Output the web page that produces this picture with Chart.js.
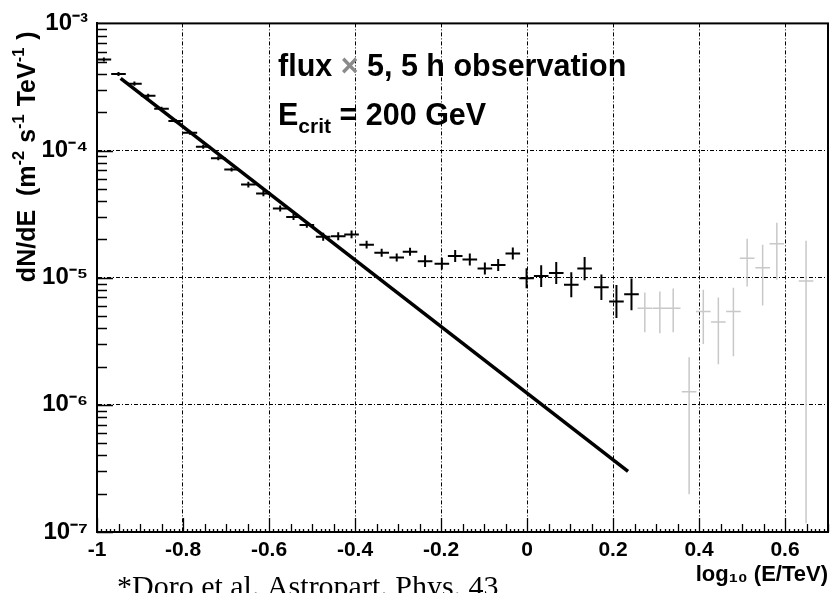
<!DOCTYPE html>
<html>
<head>
<meta charset="utf-8">
<script src="https://cdn.jsdelivr.net/npm/chart.js@4/dist/chart.umd.min.js"></script>
<style>
  html, body { margin: 0; padding: 0; background: #fff; }
  #wrap { width: 831px; height: 593px; position: relative; overflow: hidden; }
</style>
</head>
<body>
<div id="wrap"><canvas id="c" width="831" height="593"></canvas></div>
<script>
// ---------------- data ----------------
// log10(E/TeV) bin centres of the black (significant) points
const blackX = [-0.984,-0.950,-0.913,-0.881,-0.850,-0.817,-0.784,-0.753,-0.718,-0.687,
                -0.648,-0.613,-0.574,-0.543,-0.512,-0.474,-0.439,-0.408,-0.373,-0.338,
                -0.303,-0.272,-0.237,-0.198,-0.167,-0.133,-0.098,-0.067,-0.033,-0.001,
                 0.033, 0.068, 0.103, 0.134, 0.173, 0.208, 0.243];
// dN/dE (m^-2 s^-1 TeV^-1)
const blackY = [5.2e-4,4.0e-4,3.36e-4,2.70e-4,2.13e-4,1.71e-4,1.38e-4,1.07e-4,8.7e-5,7.1e-5,
                5.4e-5,4.6e-5,3.5e-5,3.0e-5,2.6e-5,2.1e-5,2.12e-5,2.19e-5,1.82e-5,1.57e-5,
                1.44e-5,1.6e-5,1.35e-5,1.29e-5,1.48e-5,1.39e-5,1.18e-5,1.26e-5,1.55e-5,9.9e-6,
                1.03e-5,1.09e-5,8.8e-6,1.18e-5,8.4e-6,6.5e-6,7.4e-6];
// vertical error half-size, in decades
const blackErrDex = [0.016,0.016,0.016,0.016,0.016,0.016,0.016,0.016,0.016,0.016,
                     0.023,0.023,0.023,0.023,0.023,0.031,0.031,0.031,0.031,0.031,
                     0.031,0.031,0.047,0.047,0.047,0.047,0.047,0.047,0.047,0.078,
                     0.086,0.086,0.098,0.091,0.100,0.130,0.125];
// grey (non-significant) points
const greyX  = [0.274,0.309,0.340,0.377,0.410,0.445,0.480,0.512,0.548,0.581,0.649];
const greyY  = [5.75e-6,5.75e-6,5.75e-6,1.27e-6,5.42e-6,4.48e-6,5.42e-6,1.42e-5,1.20e-5,1.85e-5,9.42e-6];
const greyLo = [3.72e-6,3.65e-6,3.72e-6,1.98e-7,3.01e-6,2.09e-6,2.41e-6,8.51e-6,6.04e-6,9.64e-6,1.17e-7];
const greyHi = [7.64e-6,7.80e-6,8.24e-6,2.37e-6,8.05e-6,6.98e-6,8.35e-6,2.02e-5,1.82e-5,2.70e-5,1.95e-5];
// bin half width in log10(E/TeV)
const binHalf = 0.017;
// power-law fit line
const fitX = [-0.945, 0.235];
const fitY = [3.7e-4, 3.0e-7];
// axis ticks
const xTickValues = [-1,-0.8,-0.6,-0.4,-0.2,0,0.2,0.4,0.6];
const xTickLabels = ['-1','-0.8','-0.6','-0.4','-0.2','0','0.2','0.4','0.6'];
const yTickValues = [1e-7,1e-6,1e-5,1e-4,1e-3];
const yTickLabels = ['10\u207B\u2077','10\u207B\u2076','10\u207B\u2075','10\u207B\u2074','10\u207B\u00B3'];
// y-axis title pieces: [text, isSuperscript]
const yTitleParts = [['dN/dE  (m', false], ['-2', true], [' s', false], ['-1', true], [' TeV', false], ['-1', true], [' )', false]];

// ---------------- build error-bar polylines ----------------
function crosses(xs, ys, los, his) {
  const pts = [];
  for (let i = 0; i < xs.length; i++) {
    pts.push({x: xs[i] - binHalf, y: ys[i]}, {x: xs[i] + binHalf, y: ys[i]}, {x: xs[i], y: null});
    pts.push({x: xs[i], y: los[i]}, {x: xs[i], y: his[i]}, {x: xs[i], y: null});
  }
  return pts;
}
const blackLo = blackY.map((v, i) => v / Math.pow(10, blackErrDex[i]));
const blackHi = blackY.map((v, i) => v * Math.pow(10, blackErrDex[i]));

const SANS = '"Liberation Sans", Arial, Helvetica, sans-serif';
const SERIF = '"Liberation Serif", "Times New Roman", serif';

const rootDecor = {
  id: 'rootDecor',
  afterDatasetsDraw(chart) {
    const {ctx, chartArea: a, scales: {x, y}} = chart;
    ctx.save();
    ctx.strokeStyle = '#000';
    ctx.lineWidth = 1.3;
    ctx.beginPath();
    // y minor/major ticks (inside, left)
    for (let e = -7; e < -3; e++) {
      for (let k = 1; k <= 9; k++) {
        const py = Math.round(y.getPixelForValue(k * Math.pow(10, e))) + 0.5;
        const len = k === 1 ? 16 : 10;
        ctx.moveTo(a.left, py); ctx.lineTo(a.left + len, py);
      }
    }
    // x ticks (inside, bottom)
    for (let i = -100; i <= 70; i++) {
      const v = i / 100;
      const px = Math.round(x.getPixelForValue(v)) + 0.5;
      let len = 3;
      if (i % 20 === 0) len = 14; else if (i % 5 === 0) len = 8;
      ctx.moveTo(px, a.bottom); ctx.lineTo(px, a.bottom - len);
    }
    ctx.stroke();
    // frame
    ctx.lineWidth = 2;
    ctx.strokeRect(a.left, a.top, a.right - a.left, a.bottom - a.top);
    ctx.restore();
  },
  afterDraw(chart) {
    const {ctx, chartArea: a} = chart;
    ctx.save();
    ctx.textBaseline = 'alphabetic';
    ctx.textAlign = 'left';
    ctx.fillStyle = '#000';
    // annotation line 1
    let tx = a.left + 181, ty = a.top + 53;
    ctx.font = 'bold 30.5px ' + SANS;
    ctx.fillText('flux ', tx, ty); tx += ctx.measureText('flux ').width;
    ctx.fillStyle = '#8a8a8a';
    ctx.fillText('\u00D7', tx, ty); tx += ctx.measureText('\u00D7').width;
    ctx.fillStyle = '#000';
    ctx.fillText(' 5, 5 h observation', tx, ty);
    // annotation line 2
    tx = a.left + 181; ty = a.top + 102;
    ctx.font = 'bold 30.5px ' + SANS;
    ctx.fillText('E', tx, ty); tx += ctx.measureText('E').width;
    ctx.font = 'bold 21px ' + SANS;
    ctx.fillText('crit', tx, ty + 8); tx += ctx.measureText('crit').width;
    ctx.font = 'bold 30.5px ' + SANS;
    ctx.fillText(' = 200 GeV', tx, ty);

    // y-axis title, rotated, right-aligned at the top of the axis
    const bigF = 'bold 25px ' + SANS, supF = 'bold 16.5px ' + SANS;
    let W = 0;
    for (const [t, sup] of yTitleParts) { ctx.font = sup ? supF : bigF; W += ctx.measureText(t).width + (sup ? 1 : 0); }
    ctx.save();
    ctx.translate(35, a.top + 8 + W);
    ctx.rotate(-Math.PI / 2);
    let lx = 0;
    for (const [t, sup] of yTitleParts) {
      ctx.font = sup ? supF : bigF;
      ctx.fillText(t, lx, sup ? -11 : 0);
      lx += ctx.measureText(t).width + (sup ? 1 : 0);
    }
    ctx.restore();

    // citation at the bottom
    ctx.font = '30px ' + SERIF;
    ctx.fillText('*Doro et al. Astropart. Phys. 43', 117, 596);
    ctx.restore();
  }
};

new Chart(document.getElementById('c'), {
  type: 'scatter',
  data: {
    datasets: [
      { label: 'fit', data: fitX.map((v, i) => ({x: v, y: fitY[i]})), showLine: true,
        borderColor: '#000', borderWidth: 3.5, pointRadius: 0, order: 1 },
      { label: 'significant', data: crosses(blackX, blackY, blackLo, blackHi), showLine: true, spanGaps: false,
        borderColor: '#000', borderWidth: 2, pointRadius: 0, order: 2 },
      { label: 'not significant', data: crosses(greyX, greyY, greyLo, greyHi), showLine: true, spanGaps: false,
        borderColor: '#c8c8c8', borderWidth: 1.5, pointRadius: 0, order: 3 }
    ]
  },
  options: {
    responsive: false,
    devicePixelRatio: 1,
    animation: false,
    layout: { padding: { top: 20, right: 3, left: 0, bottom: 0 } },
    plugins: { legend: { display: false }, tooltip: { enabled: false } },
    elements: { line: { tension: 0, borderCapStyle: 'butt' } },
    scales: {
      x: {
        type: 'linear', min: -1, max: 0.7,
        afterFit(s) { s.height = 61; },
        afterBuildTicks(s) { s.ticks = xTickValues.map(v => ({value: v})); },
        grid: { color: '#000', lineWidth: 1, drawTicks: false },
        border: { display: true, color: '#000', width: 2, dash: [4, 2, 1, 2] },
        ticks: {
          autoSkip: false, maxRotation: 0, padding: 6, color: '#000',
          font: { family: SANS, size: 21, weight: 'bold' },
          callback: (v, i) => xTickLabels[i]
        },
        title: {
          display: true, text: 'log\u2081\u2080 (E/TeV)', align: 'end', color: '#000',
          font: { family: SANS, size: 22, weight: 'bold' }, padding: { top: 0, bottom: 5 }
        }
      },
      y: {
        type: 'logarithmic', min: 1e-7, max: 1e-3,
        afterFit(s) { s.width = 97; },
        afterBuildTicks(s) { s.ticks = yTickValues.map(v => ({value: v})); },
        grid: { color: '#000', lineWidth: 1, drawTicks: false },
        border: { display: true, color: '#000', width: 2, dash: [4, 2, 1, 2] },
        ticks: {
          autoSkip: false, padding: 9, color: '#000',
          font: { family: SANS, size: 24, weight: 'bold' },
          callback: (v, i) => yTickLabels[i]
        },
        title: { display: false }
      }
    }
  },
  plugins: [rootDecor]
});
</script>
</body>
</html>
